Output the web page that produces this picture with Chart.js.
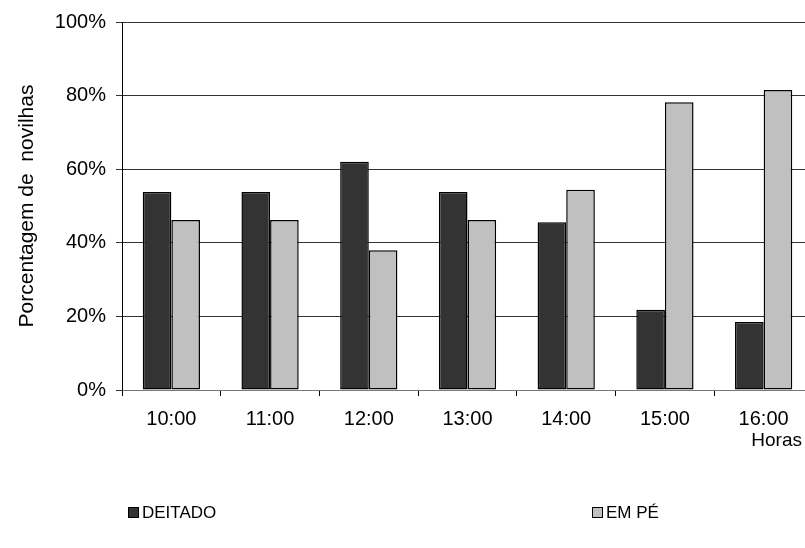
<!DOCTYPE html>
<html>
<head>
<meta charset="utf-8">
<script src="https://cdn.jsdelivr.net/npm/chart.js@4"></script>
<style>
  body { margin: 0; background: #fff; }
  #wrap { width: 805px; height: 548px; overflow: hidden; position: relative; }
  #wrap div { width: 820px; height: 548px; }
</style>
</head>
<body>
<div id="wrap"><div><canvas id="grafico"></canvas></div></div>
<script>
// Dados do gráfico
var horas = ['10:00', '11:00', '12:00', '13:00', '14:00', '15:00', '16:00'];
var deitado = [53.8, 53.8, 62.0, 53.8, 45.6, 21.8, 18.5];
var emPe = [46.2, 46.2, 38.0, 46.2, 54.4, 78.2, 81.5];
var ticksY = [0, 20, 40, 60, 80, 100];

var fonte = 'Liberation Sans, Arial, sans-serif';

// Legenda e título "Horas" desenhados à mão
var extras = {
    id: 'extras',
    afterDraw: function(chart) {
        var ctx = chart.ctx;
        ctx.save();
        ctx.font = '19px ' + fonte;
        ctx.fillStyle = '#000';
        ctx.textBaseline = 'middle';
        ctx.textAlign = 'right';
        ctx.fillText('Horas', 802, 441);

        var posX = [128, 592];
        ctx.font = '17px ' + fonte;
        ctx.textAlign = 'left';
        chart.data.datasets.forEach(function(ds, i) {
            ctx.fillStyle = ds.backgroundColor;
            ctx.fillRect(posX[i], 507, 10, 10);
            ctx.strokeStyle = '#000';
            ctx.lineWidth = 1;
            ctx.strokeRect(posX[i] + 0.5, 507.5, 10, 10);
            ctx.fillStyle = '#000';
            ctx.fillText(ds.label, posX[i] + 14, 513);
        });
        ctx.restore();
    }
};

var ctx1 = document.getElementById('grafico').getContext('2d');
var grafico = new Chart(ctx1, {
    type: 'bar',
    data: {
        labels: horas,
        datasets: [{
            label: 'DEITADO',
            data: deitado,
            backgroundColor: '#333333',
            borderColor: '#000',
            borderWidth: 1.5,
            borderSkipped: false
        }, {
            label: 'EM PÉ',
            data: emPe,
            backgroundColor: '#c0c0c0',
            borderColor: '#000',
            borderWidth: 1.5,
            borderSkipped: false
        }]
    },
    options: {
        responsive: true,
        maintainAspectRatio: false,
        animation: false,
        categoryPercentage: 0.58,
        barPercentage: 1.0,
        layout: { padding: { left: 0, top: 22, right: 7, bottom: 0 } },
        plugins: {
            legend: { display: false },
            tooltip: { enabled: false }
        },
        scales: {
            x: {
                afterFit: function(scale) { scale.height = 158; },
                grid: {
                    display: true,
                    drawOnChartArea: false,
                    offset: true,
                    tickLength: 6,
                    color: '#000'
                },
                border: { color: '#777', width: 1 },
                ticks: {
                    color: '#000',
                    padding: 11,
                    font: { family: fonte, size: 20 }
                }
            },
            y: {
                min: 0,
                max: 100,
                afterFit: function(scale) { scale.width = 122; },
                afterBuildTicks: function(scale) {
                    scale.ticks = ticksY.map(function(v) { return { value: v }; });
                },
                grid: {
                    color: '#333',
                    lineWidth: 1,
                    tickLength: 6
                },
                border: { color: '#000', width: 1 },
                ticks: {
                    color: '#000',
                    padding: 10,
                    font: { family: fonte, size: 20 },
                    callback: function(v) { return v + '%'; }
                },
                title: {
                    display: true,
                    text: 'Porcentagem de  novilhas',
                    color: '#000',
                    padding: { top: 15, bottom: 0 },
                    font: { family: fonte, size: 21 }
                }
            }
        }
    },
    plugins: [extras]
});
</script>
</body>
</html>
